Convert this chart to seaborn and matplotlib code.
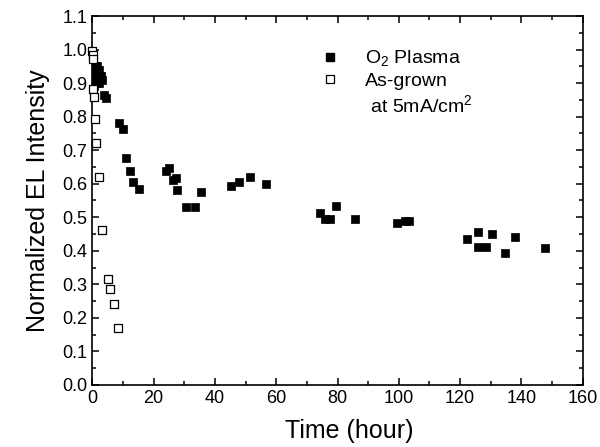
# %% IMPORTS
import matplotlib
matplotlib.use("Agg")
from matplotlib import ticker
from matplotlib.lines import Line2D
import matplotlib.pyplot as plt
import pandas as pd
import seaborn as sns

# %% DATA
# O2 plasma treated device (filled squares)
plasma_time = [
    0.3, 0.5, 0.7, 0.9, 1.1, 1.3, 1.5, 1.7, 2.0, 2.3, 2.6, 3.0,
    0.4, 0.8, 1.2, 1.6, 2.2, 2.8, 3.8, 4.3,
    8.7, 10.0, 11.1, 12.2, 13.2, 15.2,
    23.9, 25.0, 26.3, 27.4, 27.7, 30.5, 33.4, 35.3,
    45.3, 47.7, 51.4, 56.7,
    74.4, 76.0, 77.5, 79.5, 85.7,
    99.3, 102.1, 103.4,
    122.2, 125.7, 125.7, 128.4, 130.5, 134.7, 137.8, 147.7,
]
plasma_el = [
    0.90, 0.93, 0.95, 0.92, 0.94, 0.91, 0.95, 0.93, 0.92, 0.94, 0.92, 0.91,
    0.89, 0.91, 0.93, 0.90, 0.90, 0.92, 0.865, 0.855,
    0.780, 0.764, 0.678, 0.638, 0.605, 0.584,
    0.637, 0.647, 0.611, 0.616, 0.580, 0.532, 0.532, 0.575,
    0.594, 0.604, 0.620, 0.600,
    0.514, 0.494, 0.494, 0.533, 0.494,
    0.484, 0.490, 0.490,
    0.436, 0.455, 0.412, 0.412, 0.451, 0.393, 0.442, 0.408,
]

# As-grown device (open squares)
grown_time = [0.0, 0.1, 0.2, 0.2, 0.4, 1.0, 1.3, 2.1, 3.0, 5.2, 5.9, 7.0, 8.2]
grown_el = [0.997, 0.985, 0.971, 0.882, 0.858, 0.792, 0.722, 0.621,
            0.462, 0.315, 0.287, 0.241, 0.170]

legend_labels = ["O$_2$ Plasma", "As-grown", " at 5mA/cm$^2$"]

plasma = pd.DataFrame({"time": plasma_time, "el": plasma_el})
grown = pd.DataFrame({"time": grown_time, "el": grown_el})

# %% PLOT
sns.set_style("ticks")
plt.rcParams["font.family"] = ["Liberation Sans", "DejaVu Sans"]
plt.rcParams["mathtext.fontset"] = "custom"
plt.rcParams["mathtext.rm"] = "Liberation Sans"
plt.rcParams["mathtext.it"] = "Liberation Sans"
plt.rcParams["text.color"] = "black"
plt.rcParams["axes.labelcolor"] = "black"

fig = plt.figure(figsize=(6, 4.47), dpi=100)
ax = fig.add_axes([0.154, 0.139, 0.817, 0.825])

sns.scatterplot(data=plasma, x="time", y="el", marker="s", s=40,
                color="black", edgecolor="black", linewidth=0.5, ax=ax)
sns.scatterplot(data=grown, x="time", y="el", marker="s", s=30,
                facecolor="white", edgecolor="black", linewidth=0.9,
                clip_on=False, zorder=3, ax=ax)

ax.set_xlim(0, 160)
ax.set_ylim(0, 1.1)
ax.xaxis.set_major_locator(ticker.MultipleLocator(20))
ax.xaxis.set_minor_locator(ticker.MultipleLocator(10))
ax.yaxis.set_major_locator(ticker.MultipleLocator(0.1))
ax.yaxis.set_minor_locator(ticker.MultipleLocator(0.05))
ax.yaxis.set_major_formatter(ticker.FormatStrFormatter("%.1f"))
ax.tick_params(which="both", direction="in", top=True, right=True,
               width=1.1, labelsize=13, colors="black")
ax.tick_params(which="major", length=5)
ax.tick_params(which="minor", length=3)
for spine in ax.spines.values():
    spine.set_linewidth(1.2)
    spine.set_color("black")

ax.set_xlabel("Time (hour)", fontsize=18)
ax.set_ylabel("Normalized EL Intensity", fontsize=18, labelpad=9)
# The x label sits a little right of centre in the original
ax.xaxis.set_label_coords(0.523, -0.093)

# Legend with extra text line
handles = [
    Line2D([], [], ls="none", marker="s", ms=6, mfc="black", mec="black"),
    Line2D([], [], ls="none", marker="s", ms=6, mfc="white", mec="black", mew=0.9),
    Line2D([], [], ls="none"),
]
ax.legend(handles, legend_labels, loc="upper left", bbox_to_anchor=(0.425, 0.96),
          frameon=False, fontsize=14, handletextpad=1.2, labelspacing=0.2,
          handlelength=1.2)

fig.savefig("out.png", dpi=100)
